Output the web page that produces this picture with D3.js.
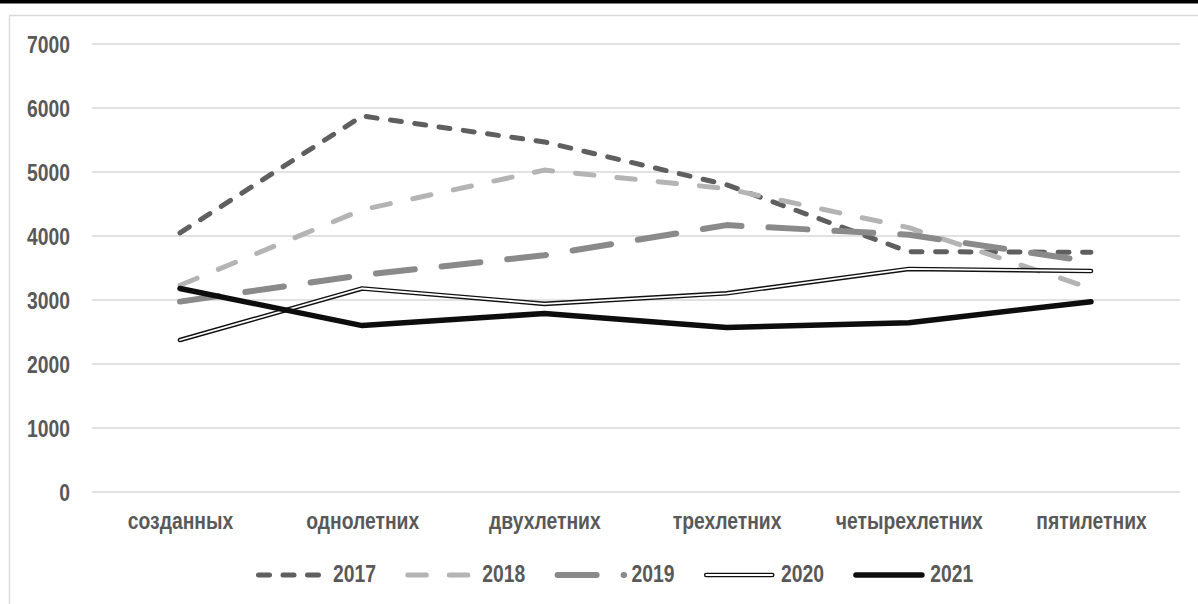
<!DOCTYPE html>
<html>
<head>
<meta charset="utf-8">
<script src="https://cdn.jsdelivr.net/npm/d3@7/dist/d3.min.js"></script>
<style>
  html, body { margin: 0; padding: 0; background: #fff; }
  svg { display: block; }
  text { font-family: 'Liberation Sans', Arial, sans-serif; font-weight: bold; fill: #595959; }
</style>
</head>
<body>
<svg id="chart" width="1198" height="604"></svg>
<script>
const categories = ["созданных", "однолетних", "двухлетних", "трехлетних", "четырехлетних", "пятилетних"];
const yTicks = [0, 1000, 2000, 3000, 4000, 5000, 6000, 7000];
const seriesNames = ["2017", "2018", "2019", "2020", "2021"];
const values2017 = [4050, 5875, 5470, 4800, 3755, 3745];
const values2018 = [3230, 4410, 5030, 4740, 4130, 3182];
const values2019 = [2975, 3390, 3700, 4170, 4020, 3600];
const values2020 = [2375, 3180, 2940, 3105, 3485, 3453];
const values2021 = [3180, 2600, 2790, 2570, 2645, 2974];
const allValues = [values2017, values2018, values2019, values2020, values2021];

const styles = [
  { color: "#5f5f5f", width: 5, dash: "11,13.5", cap: "round" },
  { color: "#b4b4b4", width: 5, dash: "18.5,23", cap: "round" },
  { color: "#8a8a8a", width: 6, dash: "39,27", cap: "round" },
  { color: "#111", width: 4.6, dash: null, cap: "round", double: true },
  { color: "#0d0d0d", width: 5.5, dash: null, cap: "round" }
];

const FONT_SIZE = 23;
const SQUEEZE = 0.84;

const svg = d3.select("#chart");
const W = 1198, H = 604;
const plot = { left: 89, right: 1180, top: 44, bottom: 492 };

function squeeze(sel) {
  sel.each(function() {
    const w = this.getComputedTextLength();
    d3.select(this).attr("textLength", w * SQUEEZE).attr("lengthAdjust", "spacingAndGlyphs");
  });
}

// top black rule
svg.append("rect").attr("x", 0).attr("y", 0).attr("width", W).attr("height", 3.5).attr("fill", "#000");
// chart frame
svg.append("path").attr("d", `M9.5,${H} L9.5,15.5 L${W},15.5`).attr("fill", "none").attr("stroke", "#d9d9d9").attr("stroke-width", 1.3);

const x = d3.scalePoint().domain(categories).range([180, 1091]);
const y = d3.scaleLinear().domain([0, 7000]).range([plot.bottom, plot.top]);

// gridlines
const grid = svg.append("g");
grid.selectAll("line").data(yTicks).join("line")
  .attr("x1", 92).attr("x2", plot.right)
  .attr("y1", d => y(d)).attr("y2", d => y(d))
  .attr("stroke", "#d9d9d9").attr("stroke-width", 1.5);

// y axis labels
const yAxis = d3.axisLeft(y).tickValues(yTicks).tickSize(0).tickPadding(0).tickFormat(d3.format("d"));
const gy = svg.append("g").attr("transform", "translate(70,0)").call(yAxis);
gy.select(".domain").remove();
gy.attr("font-family", null).attr("font-size", null);
gy.selectAll("text").attr("font-size", FONT_SIZE).attr("fill", "#595959").attr("dy", "0.36em").call(squeeze);

// x axis labels
const xAxis = d3.axisBottom(x).tickSize(0).tickPadding(0);
const gx = svg.append("g").attr("transform", "translate(0,529)").call(xAxis);
gx.select(".domain").remove();
gx.attr("font-family", null).attr("font-size", null);
gx.selectAll("text").attr("font-size", FONT_SIZE).attr("fill", "#595959").attr("dy", 0).attr("y", 0).call(squeeze);

// lines
const line = d3.line().x((d, i) => x(categories[i])).y(d => y(d));
const lines = svg.append("g");
allValues.forEach((vals, si) => {
  const s = styles[si];
  const p = lines.append("path").attr("d", line(vals)).attr("fill", "none")
    .attr("stroke", s.color).attr("stroke-width", s.width)
    .attr("stroke-linecap", s.cap).attr("stroke-linejoin", "round");
  if (s.dash) p.attr("stroke-dasharray", s.dash);
  if (s.double) {
    lines.append("path").attr("d", line(vals)).attr("fill", "none")
      .attr("stroke", "#fff").attr("stroke-width", 1.8)
      .attr("stroke-linecap", "round").attr("stroke-linejoin", "round");
  }
});

// legend
const legend = svg.append("g");
const legendY = 575;
seriesNames.forEach((name, i) => {
  const s = styles[i];
  const x0 = 256 + i * 149.3;
  const len = i === 2 ? 66.5 : 66;
  const lx = x0 + s.width / 2;
  const lp = legend.append("line").attr("x1", lx).attr("x2", lx + len)
    .attr("y1", legendY).attr("y2", legendY)
    .attr("stroke", s.color).attr("stroke-width", s.width).attr("stroke-linecap", s.cap);
  if (s.dash) lp.attr("stroke-dasharray", s.dash);
  if (s.double) {
    legend.append("line").attr("x1", lx).attr("x2", lx + len)
      .attr("y1", legendY).attr("y2", legendY)
      .attr("stroke", "#fff").attr("stroke-width", 1.8).attr("stroke-linecap", "round");
  }
  legend.append("text").attr("x", x0 + 77).attr("y", 582).attr("font-size", FONT_SIZE).text(name).call(squeeze);
});
</script>
</body>
</html>
